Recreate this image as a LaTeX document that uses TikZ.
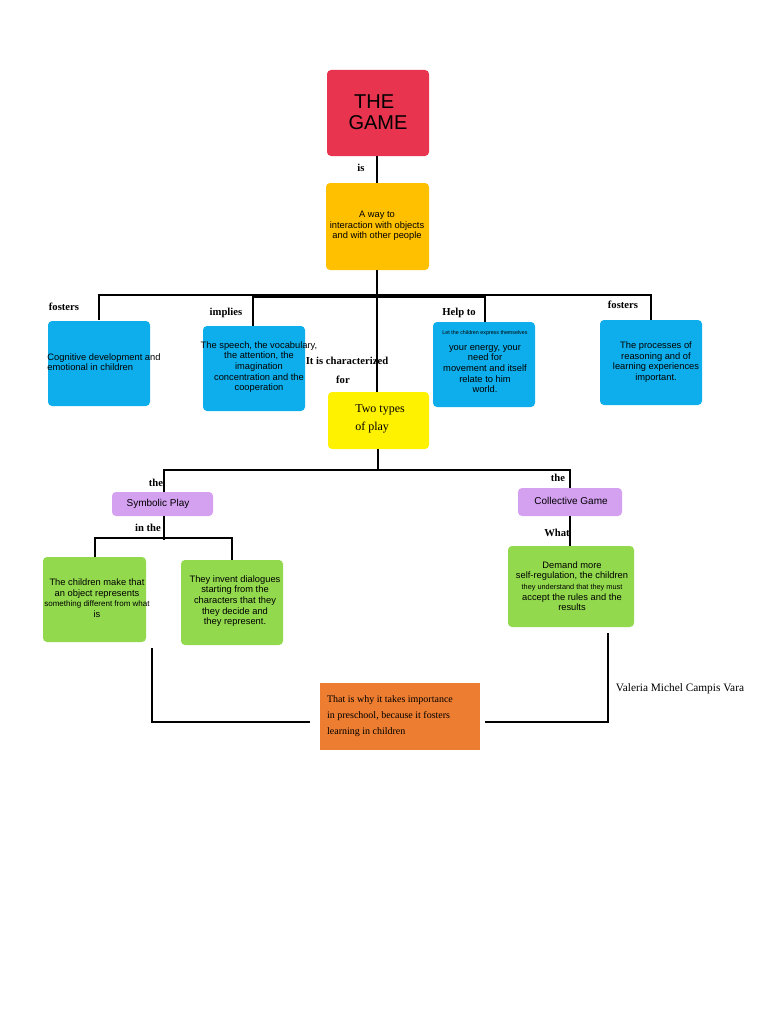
\documentclass[tikz,border=0pt]{standalone}
\usepackage{fontspec}
\setmainfont{Liberation Serif}
\setsansfont{Liberation Sans}
\begin{document}
\begin{tikzpicture}[x=0.75pt,y=-0.75pt,
  box/.style={rounded corners=3pt,inner sep=0pt},
  txt/.style={font=\sffamily\fontsize{7}{8}\selectfont,align=center},
  lab/.style={font=\bfseries\fontsize{8}{9}\selectfont},
  ln/.style={line width=1.2pt}]
\definecolor{cred}{HTML}{E8344F}\definecolor{cyel}{HTML}{FFC000}
\definecolor{cblue}{HTML}{0DAEEB}\definecolor{cpur}{HTML}{D4A0F0}
\definecolor{cgrn}{HTML}{92D94E}\definecolor{corg}{HTML}{ED7D31}
\useasboundingbox (0,0) rectangle (768,1024);
% boxes
\fill[cred,box] (327,70) rectangle (429,156); \node[font=\sffamily\fontsize{15}{16}\selectfont,align=left] (game) at (378,112) {\ THE\\GAME};
\fill[cyel,box] (326,183) rectangle (429,270); \node[txt] (way) at (377,226) {A way to\\interaction with objects\\and with other people};
\fill[cblue,box] (48,321) rectangle (150,406); \node[txt,align=left] (b1) at (104,362) {Cognitive development and\\emotional in children};
\fill[cblue,box] (203,326) rectangle (305,411); \node[txt] (b2) at (259,367) {The speech, the vocabulary,\\the attention, the\\imagination\\concentration and the\\cooperation};
\fill[cblue,box] (433,322) rectangle (535,407); \node[font=\sffamily\fontsize{4}{5}\selectfont] (b3a) at (485,333) {Let the children express themselves};
\node[txt] (b3) at (485,369) {your energy, your\\need for\\movement and itself\\relate to him\\world.};
\fill[cblue,box] (600,320) rectangle (702,405); \node[txt] (b4) at (656,362) {The processes of\\reasoning and of\\learning experiences\\important.};
\fill[yellow,box] (328,392) rectangle (429,449); \node[font=\fontsize{9}{13}\selectfont,align=left] (two) at (380,419) {Two types\\of play};
\fill[cpur,box] (112,492) rectangle (213,516); \node[txt,font=\sffamily\fontsize{7.5}{8}\selectfont] (sp) at (158,504) {Symbolic Play};
\fill[cpur,box] (518,488) rectangle (622,516); \node[txt,font=\sffamily\fontsize{7.5}{8}\selectfont] (cg) at (571,501) {Collective Game};
\fill[cgrn,box] (43,557) rectangle (146,642); \node[txt] (g1) at (97,598) {The children make that\\an object represents\\{\fontsize{6}{7}\selectfont something different from what}\\is};
\fill[cgrn,box] (181,560) rectangle (283,645); \node[txt] (g2) at (235,601) {They invent dialogues\\starting from the\\characters that they\\they decide and\\they represent.};
\fill[cgrn,box] (508,546) rectangle (634,627); \node[txt] (g3) at (572,586) {Demand more\\self-regulation, the children\\{\fontsize{5.5}{6.5}\selectfont they understand that they must}\\accept the rules and the\\results};
\fill[corg] (320,683) rectangle (480,750); \node[font=\fontsize{7.5}{12}\selectfont,align=left] (org) at (390,716) {That is why it takes importance\\in preschool, because it fosters\\learning in children};
% connectors
\draw[ln] (377,156) -- (377,183);
\draw[ln] (377,270) -- (377,392);
\draw[ln] (99,320) -- (99,295) -- (651,295) -- (651,320);
\draw[ln] (253,326) -- (253,297) -- (485,297) -- (485,322);
\draw[ln] (378,449) -- (378,470);
\draw[ln] (164,492) -- (164,470) -- (570,470) -- (570,488);
\draw[ln] (164,516) -- (164,540);
\draw[ln] (95,557) -- (95,538) -- (232,538) -- (232,560);
\draw[ln] (570,516) -- (570,546);
\draw[line width=1pt] (152,648) -- (152,722) -- (310,722);
\draw[line width=1pt] (608,633) -- (608,722) -- (485,722);
% labels
\node[lab] at (361,168) {is};
\node[lab] at (64,307) {fosters};
\node[lab] at (226,313) {implies};
\node[lab] at (459,313) {Help to};
\node[lab] at (623,305) {fosters};
\node[lab] at (347,361) {It is characterized};
\node[lab] at (343,380) {for};
\node[lab] at (156,483) {the};
\node[lab] at (558,478) {the};
\node[lab] at (148,528) {in the};
\node[lab] at (557,533) {What};
\node[font=\fontsize{8.5}{10}\selectfont] at (680,689) {Valeria Michel Campis Vara};
\end{tikzpicture}
\end{document}
